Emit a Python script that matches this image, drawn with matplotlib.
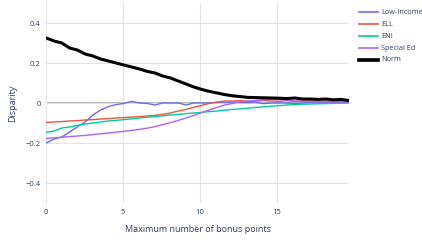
import numpy as np
import matplotlib
matplotlib.use("Agg")
import matplotlib.pyplot as plt
from matplotlib.lines import Line2D

# bonus point caps (x axis), 40 samples from 0 to 19.7
bonus = np.linspace(0, 19.7, 40)

low_income = [-0.2, -0.18, -0.17, -0.145, -0.12, -0.095, -0.06, -0.035, -0.018, -0.008,
              -0.002, 0.008, 0.0, -0.002, -0.01, 0.0, 0.0, 0.0, -0.01, 0.0,
              0.0, 0.0, 0.003, 0.003, 0.005, 0.002, 0.002, 0.003, -0.003, 0.0,
              0.0, 0.0, -0.003, 0.0, 0.002, 0.002, 0.0, 0.002, 0.003, 0.003]
ell = [-0.097, -0.095, -0.093, -0.09, -0.088, -0.085, -0.083, -0.08, -0.078, -0.075,
       -0.073, -0.07, -0.068, -0.065, -0.062, -0.057, -0.05, -0.04, -0.032, -0.022,
       -0.012, -0.002, 0.005, 0.01, 0.01, 0.012, 0.008, 0.01, 0.012, 0.01,
       0.008, 0.012, 0.008, 0.01, 0.01, 0.008, 0.01, 0.006, 0.01, 0.006]
eni = [-0.147, -0.14, -0.125, -0.12, -0.112, -0.105, -0.1, -0.095, -0.09, -0.087,
       -0.083, -0.079, -0.075, -0.071, -0.068, -0.064, -0.06, -0.057, -0.053, -0.05,
       -0.047, -0.043, -0.04, -0.036, -0.032, -0.029, -0.026, -0.022, -0.019, -0.016,
       -0.013, -0.01, -0.008, -0.006, -0.005, -0.004, -0.003, -0.002, -0.001, 0.0]
special_ed = [-0.177, -0.174, -0.171, -0.168, -0.165, -0.162, -0.158, -0.154, -0.15, -0.146,
              -0.142, -0.137, -0.132, -0.126, -0.118, -0.108, -0.098, -0.087, -0.075, -0.062,
              -0.048, -0.035, -0.022, -0.01, -0.002, 0.006, 0.01, 0.013, 0.016, 0.018,
              0.017, 0.015, 0.01, 0.008, 0.007, 0.006, 0.006, 0.005, 0.005, 0.005]
norm = [0.325, 0.31, 0.30, 0.275, 0.265, 0.245, 0.235, 0.22, 0.21, 0.2,
        0.19, 0.18, 0.17, 0.158, 0.15, 0.135, 0.125, 0.11, 0.095, 0.08,
        0.068, 0.058, 0.05, 0.042, 0.036, 0.032, 0.028, 0.027, 0.026, 0.025,
        0.024, 0.022, 0.025, 0.02, 0.02, 0.018, 0.02, 0.016, 0.018, 0.012]

names = ["Low-Income", "ELL", "ENI", "Special Ed", "Norm"]
series = [low_income, ell, eni, special_ed, norm]
colors = ["#636EFA", "#EF553B", "#00CC96", "#AB63FA", "black"]
widths = [1.0, 1.0, 1.0, 1.0, 2.2]

plt.rcParams['font.family'] = ['Open Sans', 'DejaVu Sans']
txt = "#2a3f5f"

fig = plt.figure(figsize=(4.22, 2.4), dpi=100)
ax = fig.add_axes([46.3 / 422, 1 - 203 / 240, (349 - 46.3) / 422, 200 / 240])

for vals, c, w in zip(series, colors, widths):
    ax.plot(bonus, vals, color=c, lw=w, solid_joinstyle="miter")

ax.set_xlim(0, 19.7)
ax.set_ylim(-0.5, 0.5)
ax.set_xticks([0, 5, 10, 15])
ax.set_yticks([-0.4, -0.2, 0, 0.2, 0.4])
ax.set_yticklabels(["\u22120.4", "\u22120.2", "0", "0.2", "0.4"])
ax.grid(True, color="#e3e3e3", lw=0.8)
ax.set_axisbelow(True)
ax.axhline(0, color="#a8a8a8", lw=1.2, zorder=0.5)
ax.axvline(0, color="#a8a8a8", lw=1.2, zorder=0.5)
for s in ax.spines.values():
    s.set_visible(False)
ax.tick_params(length=0, labelsize=5.5, labelcolor=txt, pad=4)
ax.set_xlabel("Maximum number of bonus points", fontsize=6.5, color=txt, labelpad=7)
ax.set_ylabel("Disparity", fontsize=6.5, color=txt, labelpad=6)

# legend drawn by hand at the right
for i, (n, c, w) in enumerate(zip(names, colors, widths)):
    yy = 1 - (12.3 + 11.9 * i) / 240
    fig.add_artist(Line2D([359 / 422, 378 / 422], [yy, yy], color=c, lw=w * 1.2,
                          transform=fig.transFigure))
    fig.text(381 / 422, yy, n, fontsize=5.2, color=txt, va="center", ha="left")

fig.savefig("out.png", dpi=100)
